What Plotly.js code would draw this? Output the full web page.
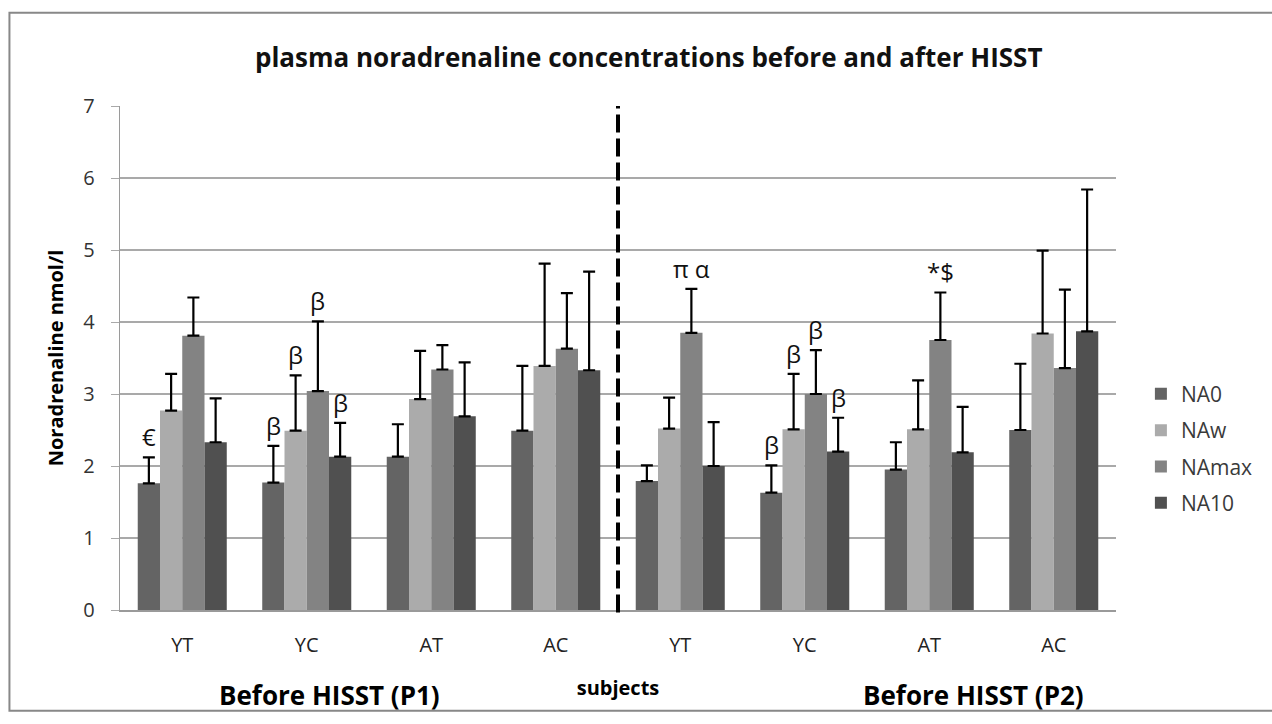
<!DOCTYPE html>
<html>
<head>
<meta charset="utf-8">
<script src="https://cdn.plot.ly/plotly-3.0.1.min.js"></script>
<style>html,body{margin:0;padding:0;background:#fff;}#chart{width:1272px;height:724px;}</style>
</head>
<body>
<div id="chart"></div>
<script>
// Categories (two periods, 4 subject groups each)
const categories = ["YT", "YC", "AT", "AC", "YT", "YC", "AT", "AC"];
const seriesNames = ["NA0", "NAw", "NAmax", "NA10"];

// Mean values (nmol/l)
const NA0   = [1.76, 1.77, 2.13, 2.49, 1.79, 1.63, 1.95, 2.50];
const NAw   = [2.77, 2.49, 2.93, 3.39, 2.52, 2.51, 2.51, 3.84];
const NAmax = [3.81, 3.04, 3.34, 3.63, 3.85, 3.00, 3.75, 3.36];
const NA10  = [2.33, 2.13, 2.69, 3.33, 2.00, 2.20, 2.19, 3.87];

// Upper error (SD) values
const NA0_err   = [0.36, 0.51, 0.45, 0.90, 0.22, 0.38, 0.38, 0.92];
const NAw_err   = [0.51, 0.77, 0.67, 1.42, 0.43, 0.77, 0.68, 1.15];
const NAmax_err = [0.53, 0.97, 0.34, 0.77, 0.61, 0.61, 0.66, 1.09];
const NA10_err  = [0.61, 0.47, 0.75, 1.37, 0.61, 0.47, 0.63, 1.97];

// Significance markers: [category index, series index, text]
const markCat    = [0, 1, 1, 1, 1, 4, 5, 5, 5, 5, 6];
const markSeries = [0, 0, 1, 2, 3, 2, 0, 1, 2, 3, 2];
const markText   = ["€", "β", "β", "β", "β", "π α", "β", "β", "β", "β", "*$"];

const periodLabels = ["Before HISST (P1)", "Before HISST (P2)"];

const FONT = "Open Sans, Liberation Sans, sans-serif";
const colors = ["#646464", "#ababab", "#838383", "#505050"];
const values = [NA0, NAw, NAmax, NA10];
const errs = [NA0_err, NAw_err, NAmax_err, NA10_err];
const idx = categories.map((_, i) => i);

const bargap = 0.285;
const barW = (1 - bargap) / seriesNames.length;

const traces = seriesNames.map((name, s) => ({
  type: "bar",
  name: name,
  x: idx,
  y: values[s],
  legendgroup: name,
  marker: {color: colors[s], line: {width: 0}},
  error_y: {type: "data", array: errs[s], symmetric: false, arrayminus: errs[s].map(() => 0),
            color: "#000", thickness: 2.2, width: 6},
  hoverinfo: "x+y+name"
}));

const annotations = markText.map((t, k) => {
  const c = markCat[k], s = markSeries[k];
  return {
    x: c + (s - (seriesNames.length - 1) / 2) * barW,
    y: values[s][c] + errs[s][c],
    xref: "x", yref: "y", text: t, showarrow: false,
    yanchor: "bottom", yshift: 2,
    font: {family: FONT, size: 24, color: "#111"}
  };
});

annotations.push(
  {x: 0.21, y: -0.168, xref: "paper", yref: "paper", xanchor: "center", yanchor: "middle",
   text: "<b>" + periodLabels[0] + "</b>",
   showarrow: false, font: {family: FONT, size: 26, color: "#000"}},
  {x: 0.857, y: -0.168, xref: "paper", yref: "paper", xanchor: "center", yanchor: "middle",
   text: "<b>" + periodLabels[1] + "</b>",
   showarrow: false, font: {family: FONT, size: 26, color: "#000"}}
);

const layout = {
  width: 1272, height: 724,
  margin: {l: 120, r: 156, t: 106, b: 114},
  paper_bgcolor: "#fff", plot_bgcolor: "#fff",
  title: {text: "<b>plasma noradrenaline concentrations before and after HISST</b>",
          font: {family: FONT, size: 26, color: "#111"}, x: 0.51, xanchor: "center", y: 0.92, yanchor: "middle"},
  barmode: "group", bargap: bargap, bargroupgap: 0,
  showlegend: true,
  legend: {x: 1.025, xanchor: "left", y: 0.32, yanchor: "middle", traceorder: "grouped",
           tracegroupgap: 6, itemwidth: 30, font: {family: FONT, size: 21, color: "#3a3a3a"}},
  xaxis: {
    range: [-0.5, categories.length - 0.5],
    tickvals: idx, ticktext: categories,
    tickfont: {family: FONT, size: 20, color: "#222"},
    showgrid: false, zeroline: false,
    showline: true, linecolor: "#9a9a9a", linewidth: 1.5,
    ticks: "", ticklabelstandoff: 16,
    title: {text: "<b>subjects</b>", font: {family: FONT, size: 20, color: "#000"}, standoff: 24}
  },
  yaxis: {
    range: [0, 7], dtick: 1,
    tickfont: {family: FONT, size: 20, color: "#333"},
    showgrid: true, gridcolor: "#a9a9a9", gridwidth: 1.3,
    zeroline: false, showline: true, linecolor: "#9a9a9a", linewidth: 1.3,
    ticks: "outside", ticklen: 8, tickcolor: "#a9a9a9", ticklabelstandoff: 12,
    title: {text: "<b>Noradrenaline nmol/l</b>", font: {family: FONT, size: 20, color: "#000"}, standoff: 14}
  },
  shapes: [
    {type: "line", xref: "x", yref: "paper", x0: 3.5, x1: 3.5, y0: -0.005, y1: 1.0,
     line: {color: "#000", width: 4, dash: "18px,6px"}},
    {type: "rect", xref: "paper", yref: "paper", x0: -0.111, x1: 1.2, y0: -0.2, y1: 1.185,
     line: {color: "#888", width: 2}, fillcolor: "rgba(0,0,0,0)", layer: "below"}
  ],
  annotations: annotations
};

Plotly.newPlot("chart", traces, layout, {displayModeBar: false, staticPlot: true});
</script>
</body>
</html>
